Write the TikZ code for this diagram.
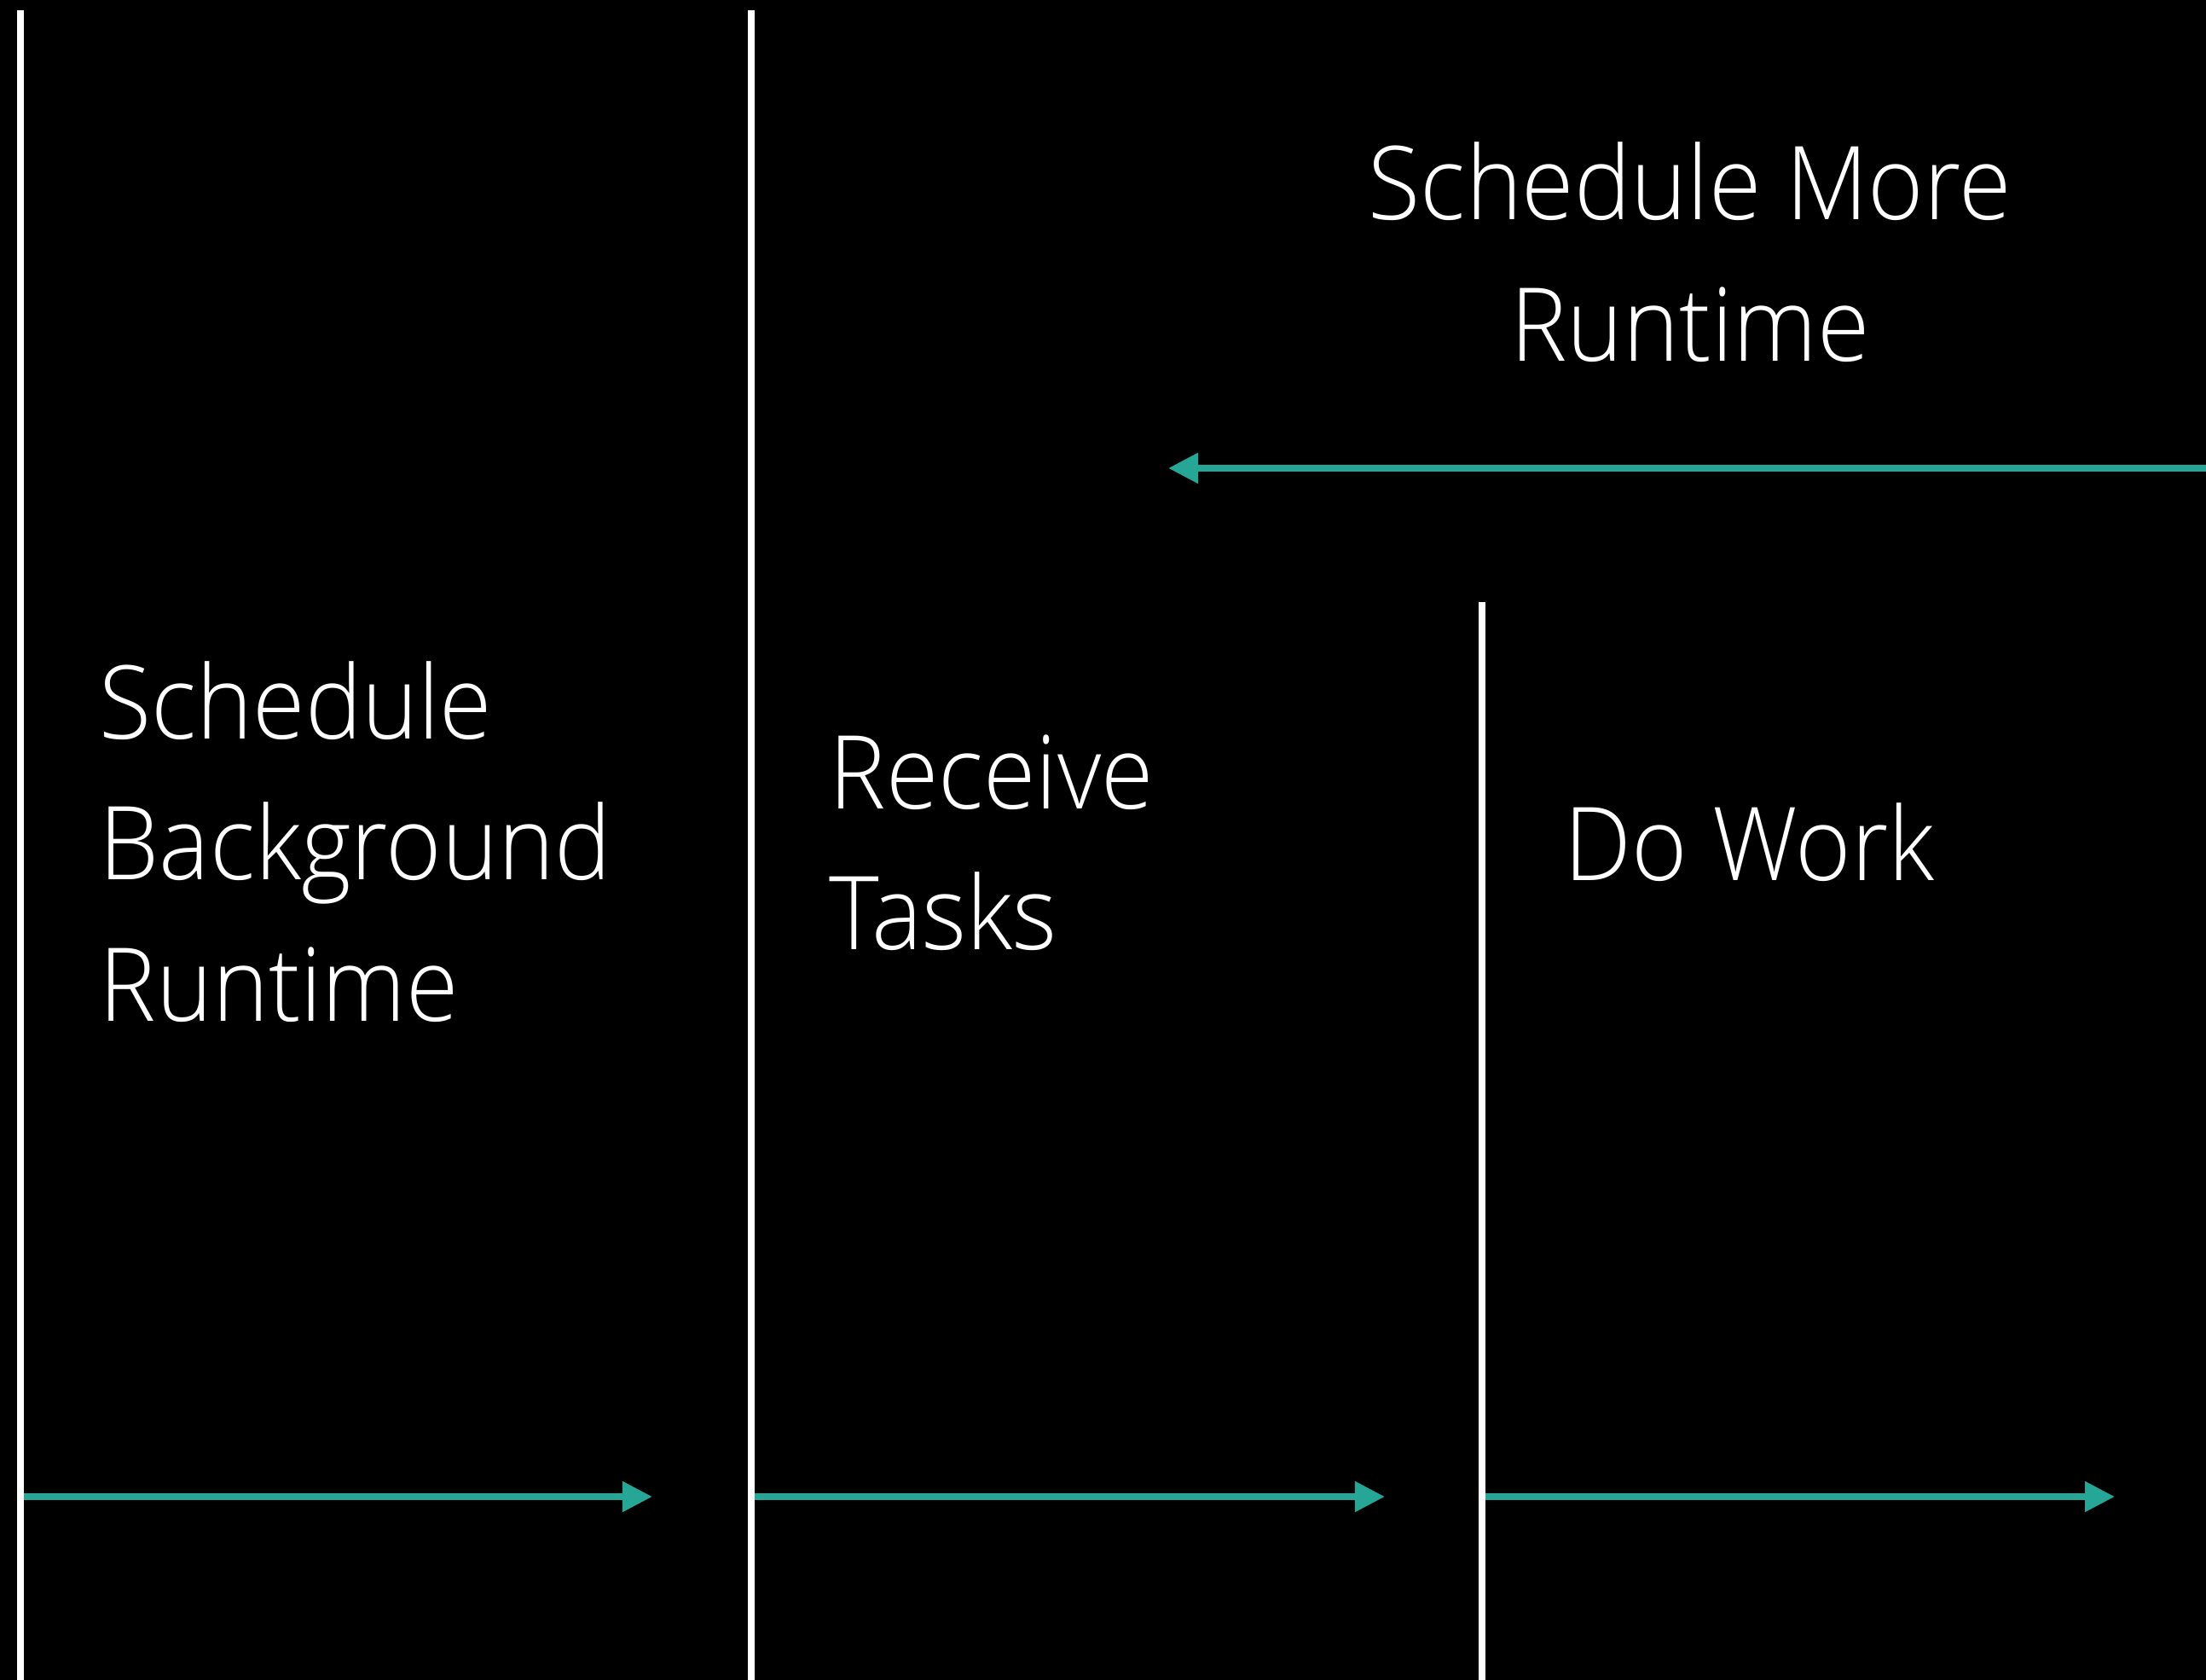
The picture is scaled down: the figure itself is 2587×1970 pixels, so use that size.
\documentclass[tikz,border=0pt]{standalone}
\usepackage{fontspec}
\IfFontExistsTF{Open Sans Light}{\setmainfont{Open Sans Light}[FakeStretch=0.935]}{\setmainfont{Open Sans}[FakeStretch=0.935]}
\usetikzlibrary{arrows.meta}
\definecolor{teal}{RGB}{38,166,150}
\tikzset{
  lane/.style={draw=white, line width=0.08cm},
  flow/.style={draw=teal, line width=0.08cm, -{Triangle[length=0.35cm,width=0.34cm]}},
  label/.style={inner sep=0pt, text=white, font=\fontsize{34}{47.2}\selectfont}
}
\begin{document}
\begin{tikzpicture}[x=0.01cm, y=-0.01cm]
\fill[black] (0,0) rectangle (2587,1970);
\useasboundingbox (0,0) rectangle (2587,1970);
% lanes
\coordinate (l1t) at (24,12);   \coordinate (l1b) at (24,1970);
\coordinate (l2t) at (881,12);  \coordinate (l2b) at (881,1970);
\coordinate (l3t) at (1738,706); \coordinate (l3b) at (1738,1970);
\draw[lane] (l1t) -- (l1b);
\draw[lane] (l2t) -- (l2b);
\draw[lane] (l3t) -- (l3b);
% arrows
\coordinate (a1s) at (28,1755);   \coordinate (a1e) at (765,1755);
\coordinate (a2s) at (885,1755);  \coordinate (a2e) at (1624,1755);
\coordinate (a3s) at (1742,1755); \coordinate (a3e) at (2480,1755);
\coordinate (bs) at (2587,549);   \coordinate (be) at (1370,549);
\draw[flow] (a1s) -- (a1e);
\draw[flow] (a2s) -- (a2e);
\draw[flow] (a3s) -- (a3e);
\draw[flow] (bs) -- (be);
% labels
\node[label, anchor=base west] (sched) at (116,866)
  {\begin{tabular}[t]{@{}l@{}}Schedule\\Background\\Runtime\end{tabular}};
\node[label, anchor=base west] (recv) at (972,948)
  {\begin{tabular}[t]{@{}l@{}}Receive\\Tasks\end{tabular}};
\node[label, anchor=base west] (work) at (1834,1032) {Do Work};
\node[label, anchor=base] (more) at (1982,258)
  {\begin{tabular}[t]{@{}c@{}}Schedule More\\Runtime\end{tabular}};
\end{tikzpicture}
\end{document}
